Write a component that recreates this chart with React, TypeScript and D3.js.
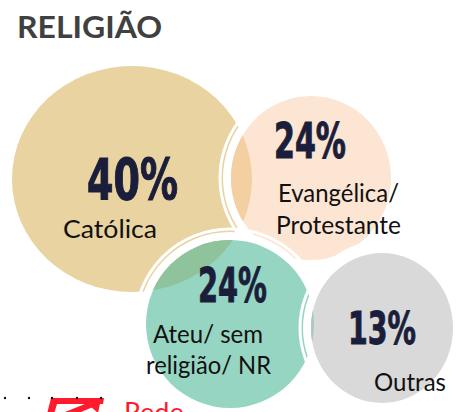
import React from "react";
import * as d3 from "d3";

const categories = ["Católica", "Evangélica/ Protestante", "Ateu/ sem religião/ NR", "Outras"];
const values = [40, 24, 24, 13];
const labelLines = [["Católica"], ["Evangélica/", "Protestante"], ["Ateu/ sem", "religião/ NR"], ["Outras"]];
const title = "RELIGIÃO";

// layout (not data)
const W = 462, H = 412;
const bubbles = [
  { cx: 132, cy: 179, rx: 120, ry: 113, fill: "#E8D3A1" },
  { cx: 311, cy: 178, rx: 80, ry: 82, fill: "#FDE5D3" },
  { cx: 230, cy: 324, rx: 84, ry: 84, fill: "#97D5C3" },
  { cx: 382, cy: 328, rx: 71, ry: 75, fill: "#D9D9D9" },
];
const overlapFills: [number, number, string][] = [
  [0, 1, "#F3CFA2"],
  [0, 2, "#8EC39B"],
  [1, 2, "#CBD3B6"],
  [2, 3, "#A7CABF"],
];
const pctPos = [
  { x: 87, y: 200, w: 91, cap: 42 },
  { x: 274, y: 158, w: 72, cap: 36 },
  { x: 198, y: 302, w: 69, cap: 35 },
  { x: 348, y: 344, w: 68, cap: 33 },
];
const labelPos = [
  [{ x: 63, y: 238, w: 94 }],
  [{ x: 278, y: 202, w: 121 }, { x: 276, y: 234, w: 125 }],
  [{ x: 153, y: 343, w: 110 }, { x: 146, y: 374, w: 125 }],
  [{ x: 374, y: 391, w: 72 }],
];

const fmt = d3.format("d");
const PCT_FS = 30;
const PCT_CAP = 0.73 * PCT_FS;

export default function App() {
  const ell = (i: number, extra = 0) => {
    const b = bubbles[i];
    return { cx: b.cx, cy: b.cy, rx: b.rx + extra, ry: b.ry + extra };
  };
  const ring = (i: number, key: string) => (
    <g key={key}>
      <ellipse {...ell(i, 4)} fill="none" stroke="#fff" strokeWidth={8} />
      <ellipse {...ell(i, 11)} fill="none" stroke="#fff" strokeWidth={3} />
    </g>
  );
  return (
    <svg width={W} height={H} style={{ position: "absolute", left: 0, top: 0, background: "#fff" }}>
      <defs>
        {bubbles.map((b, i) => (
          <clipPath id={`clip${i}`} key={i}>
            <ellipse {...ell(i)} />
          </clipPath>
        ))}
      </defs>
      <text x={17} y={38} fontFamily="Lato, 'Open Sans', sans-serif" fontWeight={700} fontSize={31}
        fill="#404040" textLength={145} lengthAdjust="spacingAndGlyphs">{title}</text>

      {bubbles.map((b, i) => (
        <g key={i}>
          {i > 0 && ring(i, `r${i}`)}
          <ellipse {...ell(i)} fill={b.fill} />
          {overlapFills.filter(o => o[1] === i).map(o => (
            <g key={`o${o[0]}`} clipPath={`url(#clip${o[0]})`}>
              <ellipse {...ell(i)} fill={o[2]} />
            </g>
          ))}
        </g>
      ))}

      {values.map((v, i) => {
        const p = pctPos[i];
        const sy = p.cap / PCT_CAP;
        return (
          <text key={`p${i}`} transform={`translate(${p.x},${p.y}) scale(1,${sy.toFixed(3)})`}
            fontFamily="'DejaVu Sans Condensed', 'DejaVu Sans', sans-serif"
            fontWeight={700} fontSize={PCT_FS} fill="#1B1E3A" stroke="#1B1E3A" strokeWidth={0.6}
            textLength={p.w} lengthAdjust="spacingAndGlyphs">{fmt(v)}%</text>
        );
      })}
      {labelLines.map((lines, i) => lines.map((t, j) => (
        <text key={`l${i}-${j}`} x={labelPos[i][j].x} y={labelPos[i][j].y} fontFamily="Lato, sans-serif"
          fontSize={25} fill="#111" textLength={labelPos[i][j].w} lengthAdjust="spacingAndGlyphs">{t}</text>
      )))}

      {/* logo fragment */}
      <g fill="#FF1A2C">
        <path d="M51 398 L104 398 L103 404 L57 404 L54 414 L47 414 Z" />
        <path d="M60 414 L90 402 L93 407 L64 419 Z" />
        <path d="M82 399 L101 399 L98 413 Z" />
      </g>
      {[5, 29, 52, 77, 101].map(x => <circle key={x} cx={x} cy={398} r={1.2} fill="#111" />)}
      <text x={124} y={422} fontFamily="Lato, sans-serif" fontSize={27} fill="#FF1A2C">Rede</text>
    </svg>
  );
}
